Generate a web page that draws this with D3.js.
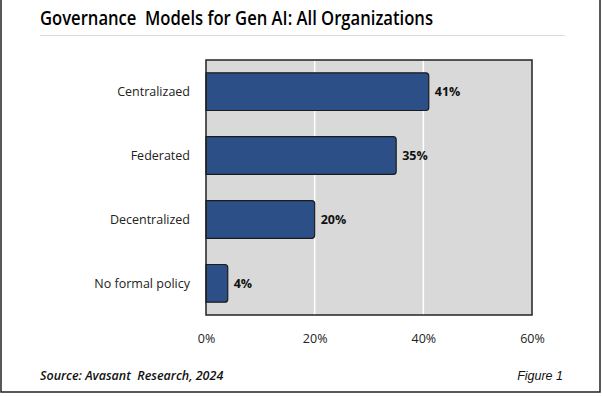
<!DOCTYPE html>
<html>
<head>
<meta charset="utf-8">
<script src="https://cdn.jsdelivr.net/npm/d3@7"></script>
<style>
  body { margin: 0; background: #fff; }
  svg { display: block; }
</style>
</head>
<body>
<svg id="chart" width="602" height="396"></svg>
<script>
// values
var categories = ["Centralizaed", "Federated", "Decentralized", "No formal policy"];
var shares = [41, 35, 20, 4];
var xTicks = [0, 20, 40, 60];

var svg = d3.select("#chart");
var font = "'Open Sans', 'Noto Sans', sans-serif";

// outer frame
svg.append("rect")
    .attr("x", 1).attr("y", -2)
    .attr("width", 599).attr("height", 394)
    .attr("fill", "none")
    .attr("stroke", "#222")
    .attr("stroke-width", 1.5);

// title
svg.append("text")
    .attr("x", 40).attr("y", 25)
    .attr("font-family", font)
    .attr("font-size", 19.5)
    .attr("font-weight", 600)
    .attr("textLength", 393)
    .attr("lengthAdjust", "spacingAndGlyphs")
    .style("white-space", "pre")
    .attr("fill", "#000")
    .text("Governance  Models for Gen AI: All Organizations");

svg.append("line")
    .attr("x1", 40).attr("x2", 565)
    .attr("y1", 35.5).attr("y2", 35.5)
    .attr("stroke", "#dcdcdc")
    .attr("stroke-width", 1);

var plotLeft = 206, plotRight = 532, plotTop = 60, plotBottom = 315;

var x = d3.scaleLinear().domain([0, 60]).range([plotLeft, plotRight]);
var y = d3.scaleBand().domain(categories).range([plotTop, plotBottom]).paddingInner(0.41).paddingOuter(0.2);

// plot background
svg.append("rect")
    .attr("x", plotLeft).attr("y", plotTop)
    .attr("width", plotRight - plotLeft).attr("height", plotBottom - plotTop)
    .attr("fill", "#d9d9d9");

// gridlines
svg.selectAll(".grid")
    .data(xTicks.slice(1, -1))
    .enter().append("line")
    .attr("class", "grid")
    .attr("x1", d => x(d)).attr("x2", d => x(d))
    .attr("y1", plotTop).attr("y2", plotBottom)
    .attr("stroke", "#fff")
    .attr("stroke-width", 1.5);

// bars with rounded right end
function barPath(d, i) {
    var x0 = x(0), x1 = x(d), y0 = y(categories[i]), h = y.bandwidth(), r = 3;
    return "M" + x0 + "," + y0 +
        "H" + (x1 - r) +
        "Q" + x1 + "," + y0 + " " + x1 + "," + (y0 + r) +
        "V" + (y0 + h - r) +
        "Q" + x1 + "," + (y0 + h) + " " + (x1 - r) + "," + (y0 + h) +
        "H" + x0 + "Z";
}

svg.selectAll(".bar")
    .data(shares)
    .enter().append("path")
    .attr("class", "bar")
    .attr("d", barPath)
    .attr("fill", "#2c4f88")
    .attr("stroke", "#1b1b1b")
    .attr("stroke-width", 1.2);

// value labels
svg.selectAll(".val")
    .data(shares)
    .enter().append("text")
    .attr("class", "val")
    .attr("x", d => x(d) + 6)
    .attr("y", (d, i) => y(categories[i]) + y.bandwidth() / 2)
    .attr("dy", "0.35em")
    .attr("font-family", font)
    .attr("font-size", 12.5)
    .attr("font-weight", "bold")
    .attr("fill", "#111")
    .text(d => d + "%");

// plot border
svg.append("rect")
    .attr("x", plotLeft).attr("y", plotTop)
    .attr("width", plotRight - plotLeft).attr("height", plotBottom - plotTop)
    .attr("fill", "none")
    .attr("stroke", "#222")
    .attr("stroke-width", 1.5);

// category labels
svg.selectAll(".cat")
    .data(categories)
    .enter().append("text")
    .attr("class", "cat")
    .attr("x", plotLeft - 16)
    .attr("y", d => y(d) + y.bandwidth() / 2)
    .attr("dy", "0.35em")
    .attr("text-anchor", "end")
    .attr("font-family", font)
    .attr("font-size", 12.5)
    .attr("fill", "#222")
    .text(d => d);

// x axis labels
var xAxis = d3.axisBottom(x)
    .tickValues(xTicks)
    .tickFormat(d => d + "%")
    .tickSize(0)
    .tickPadding(19);

var gx = svg.append("g")
    .attr("transform", "translate(0," + plotBottom + ")")
    .call(xAxis);
gx.select(".domain").remove();
gx.selectAll("text")
    .attr("font-family", font)
    .attr("font-size", 12.5)
    .attr("fill", "#222");

// footer
svg.append("text")
    .attr("x", 40).attr("y", 380)
    .attr("font-family", font)
    .attr("font-size", 12.5)
    .attr("font-style", "italic")
    .attr("font-weight", 600)
    .style("white-space", "pre")
    .attr("fill", "#111")
    .text("Source: Avasant  Research, 2024");

svg.append("text")
    .attr("x", 563).attr("y", 380)
    .attr("text-anchor", "end")
    .attr("font-family", "'Liberation Sans', Arial, sans-serif")
    .attr("font-size", 12.5)
    .attr("font-style", "italic")
    .attr("fill", "#111")
    .text("Figure 1");
</script>
</body>
</html>
